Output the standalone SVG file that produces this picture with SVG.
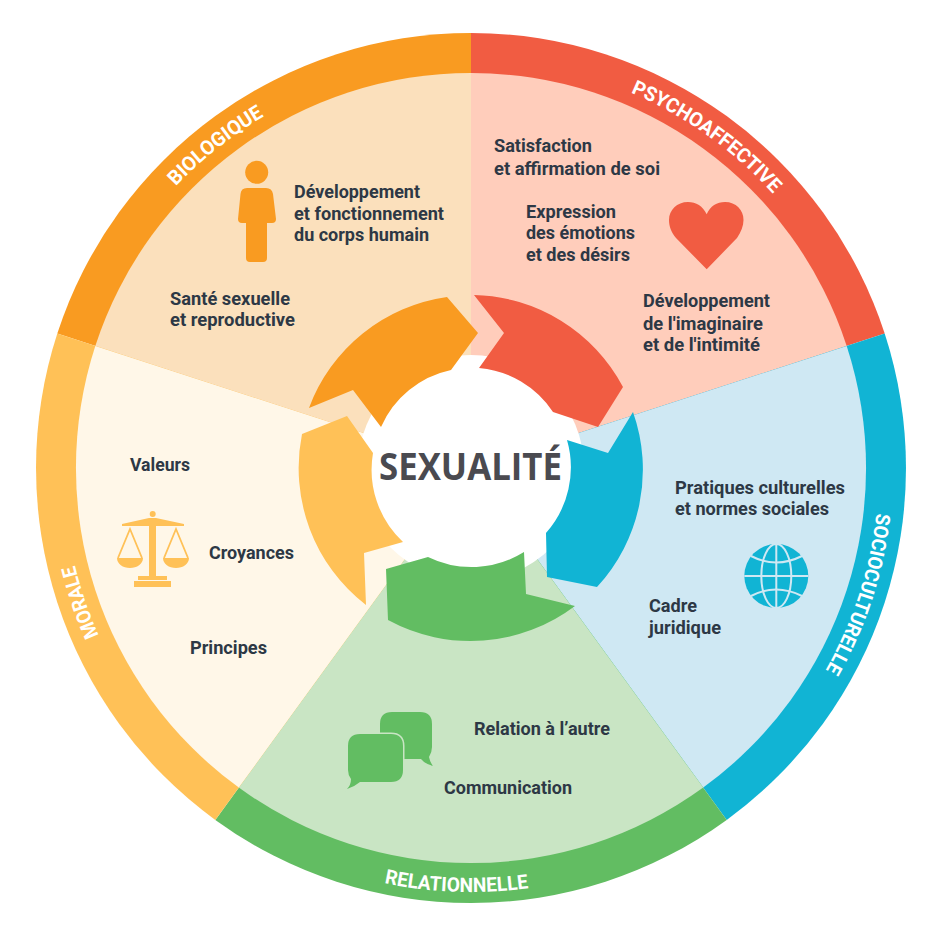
<svg xmlns="http://www.w3.org/2000/svg" width="936" height="938" viewBox="0 0 936 938">
<style>
.t{font-family:"Roboto","Liberation Sans",sans-serif;font-weight:700;font-size:18px;fill:#2d3845;transform:translateY(.7px)}
.r{font-family:"Roboto","Liberation Sans",sans-serif;font-weight:700;font-size:20px;fill:#fff}
</style>
<defs>
<path id="pBio" d="M71.3,386A408,408 0 0 1 482.4,60.2"/>
<path id="pPsy" d="M438.3,61.3A408,408 0 0 1 865.8,365.1"/>
<path id="pSoc" d="M849.3,315.2A408,408 0 0 1 687.2,814"/>
<path id="pMor" d="M260.9,817.7A408,408 0 0 1 90.1,321.8"/>
<path id="pRel" d="M187.3,783.1A424,424 0 0 0 732.1,802.1"/>
</defs>
<rect width="936" height="938" fill="#fff"/>
<g id="biologique">
<path d="M471,468L57.3,333.6A435,435 0 0 1 471,33Z" fill="#f99b21"/>
<path d="M471,468L95.3,345.9A395,395 0 0 1 471,73Z" fill="#fbe0bc"/>
<text class="r"><textPath href="#pBio" startOffset="50%" text-anchor="middle" textLength="113" lengthAdjust="spacingAndGlyphs">BIOLOGIQUE</textPath></text>
<circle cx="256.7" cy="172.3" r="11.5" fill="#f99b21"/>
<path d="M247,188H266Q272,188 273,194L276,219Q276,223 272,223H267V258Q267,262 263,262H250Q246,262 246,258V223H242Q238,223 238,219L240.500,194Q241,188 247,188Z" fill="#f99b21"/>
<text class="t" x="294" y="197" textLength="126" lengthAdjust="spacingAndGlyphs">Développement</text>
<text class="t" x="294" y="219" textLength="150" lengthAdjust="spacingAndGlyphs">et fonctionnement</text>
<text class="t" x="294" y="240" textLength="135" lengthAdjust="spacingAndGlyphs">du corps humain</text>
<text class="t" x="170" y="304" textLength="120" lengthAdjust="spacingAndGlyphs">Santé sexuelle</text>
<text class="t" x="170" y="325" textLength="125" lengthAdjust="spacingAndGlyphs">et reproductive</text>
</g>
<g id="psychoaffective">
<path d="M471,468L471,33A435,435 0 0 1 884.7,333.6Z" fill="#f15c42"/>
<path d="M471,468L471,73A395,395 0 0 1 846.7,345.9Z" fill="#ffcdbb"/>
<text class="r"><textPath href="#pPsy" startOffset="50%" text-anchor="middle" textLength="176" lengthAdjust="spacingAndGlyphs">PSYCHOAFFECTIVE</textPath></text>
<path d="M706.700,269.300L676,238C671,232 669,226 669,220C669,210 677,202 688,202C696,202 703,206 706.700,214.300C710,206 717,202 725,202C736,202 743.500,210 743.500,220C743.500,226 741,232 737,238Z" fill="#f15c42"/>
<text class="t" x="494" y="151" textLength="98" lengthAdjust="spacingAndGlyphs">Satisfaction</text>
<text class="t" x="494" y="174" textLength="166" lengthAdjust="spacingAndGlyphs">et affirmation de soi</text>
<text class="t" x="526" y="217" textLength="90" lengthAdjust="spacingAndGlyphs">Expression</text>
<text class="t" x="526" y="238" textLength="109" lengthAdjust="spacingAndGlyphs">des émotions</text>
<text class="t" x="526" y="260" textLength="104" lengthAdjust="spacingAndGlyphs">et des désirs</text>
<text class="t" x="643" y="306" textLength="127" lengthAdjust="spacingAndGlyphs">Développement</text>
<text class="t" x="643" y="329" textLength="120" lengthAdjust="spacingAndGlyphs">de l'imaginaire</text>
<text class="t" x="643" y="350" textLength="117" lengthAdjust="spacingAndGlyphs">et de l'intimité</text>
</g>
<g id="socioculturelle">
<path d="M471,468L884.7,333.6A435,435 0 0 1 726.7,819.9Z" fill="#11b4d4"/>
<path d="M471,468L846.7,345.9A395,395 0 0 1 703.2,787.6Z" fill="#cfe8f3"/>
<text class="r"><textPath href="#pSoc" startOffset="50%" text-anchor="middle" textLength="166" lengthAdjust="spacingAndGlyphs">SOCIOCULTURELLE</textPath></text>
<circle cx="776.3" cy="576" r="32" fill="#11b4d4"/>
<g fill="none" stroke="#cfe8f3" stroke-width="2">
<path d="M776.3,544V608M744.3,576H808.3"/>
<ellipse cx="776.3" cy="576" rx="15" ry="32"/>
<path d="M751,556Q776,569 802,556M751,596Q776,583 802,596"/>
</g>
<text class="t" x="675" y="493" textLength="170" lengthAdjust="spacingAndGlyphs">Pratiques culturelles</text>
<text class="t" x="675" y="514" textLength="154" lengthAdjust="spacingAndGlyphs">et normes sociales</text>
<text class="t" x="649" y="611" textLength="48" lengthAdjust="spacingAndGlyphs">Cadre</text>
<text class="t" x="649" y="633" textLength="72" lengthAdjust="spacingAndGlyphs">juridique</text>
</g>
<g id="relationnelle">
<path d="M471,468L726.7,819.9A435,435 0 0 1 215.3,819.9Z" fill="#62bd62"/>
<path d="M471,468L703.2,787.6A395,395 0 0 1 238.8,787.6Z" fill="#c9e5c4"/>
<text class="r"><textPath href="#pRel" startOffset="50%" text-anchor="middle" textLength="145" lengthAdjust="spacingAndGlyphs">RELATIONNELLE</textPath></text>
<path d="M392,712H420Q432,712 432,724V747Q432,752 429,757Q430,762 433,766Q425,764 421,759H392Q380,759 380,747V724Q380,712 392,712Z" fill="#62bd62"/>
<path d="M360,734H391Q403,734 403,746V770Q403,782 391,782H360Q354,787 347,789Q351,785 351,779Q348,775 348,770V746Q348,734 360,734Z" fill="#62bd62" stroke="#c9e5c4" stroke-width="3" paint-order="stroke"/>
<text class="t" x="474" y="734" textLength="136" lengthAdjust="spacingAndGlyphs">Relation à l’autre</text>
<text class="t" x="444" y="793" textLength="128" lengthAdjust="spacingAndGlyphs">Communication</text>
</g>
<g id="morale">
<path d="M471,468L215.3,819.9A435,435 0 0 1 57.3,333.6Z" fill="#ffc157"/>
<path d="M471,468L238.8,787.6A395,395 0 0 1 95.3,345.9Z" fill="#fff7e8"/>
<text class="r"><textPath href="#pMor" startOffset="50%" text-anchor="middle" textLength="74" lengthAdjust="spacingAndGlyphs">MORALE</textPath></text>
<g fill="#ffc157">
<circle cx="152.7" cy="514" r="3"/>
<path d="M122,524L149,518H156L184,524V526H122ZM149,525H156V577H149ZM138,576H167V580H138ZM134,581H171V587H134Z"/>
<path d="M117,558H143C143,564 137,568 130,568C123,568 117,564 117,558ZM163,558H189C189,564 183,568 176,568C169,568 163,564 163,558Z"/>
</g>
<path d="M118,558L130,529L142,558M164,558L176,529L188,558" fill="none" stroke="#ffc157" stroke-width="1.8"/>
<text class="t" x="130" y="470" textLength="60" lengthAdjust="spacingAndGlyphs">Valeurs</text>
<text class="t" x="209" y="558" textLength="85" lengthAdjust="spacingAndGlyphs">Croyances</text>
<text class="t" x="190" y="653" textLength="77" lengthAdjust="spacingAndGlyphs">Principes</text>
</g>
<g id="connectors">
<circle cx="471" cy="468" r="113" fill="#fff"/>
<path d="M309,408A173,173 0 0 1 447,297L478,333L451,370A99,99 0 0 0 381,427L353,390Z" fill="#f99b21"/>
<path d="M474,295A173,173 0 0 1 623,387L598,427L553,412A99,99 0 0 0 479,368L504,333Z" fill="#f15c42"/>
<path d="M633,412A173,173 0 0 1 597,587L547,577L546,533A99,99 0 0 0 567,440L608,453Z" fill="#11b4d4"/>
<path d="M575,606A173,173 0 0 1 388,620L386,569L428,557A99,99 0 0 0 524,552L526,594Z" fill="#62bd62"/>
<path d="M366,605A173,173 0 0 1 302,434L347,416L373,453A99,99 0 0 0 403,542L364,553Z" fill="#ffc157"/>
</g>
<g id="centre">
<text x="470.5" y="479.5" font-family="'Open Sans','Liberation Sans',sans-serif" font-weight="700" font-size="37" fill="#4a4a50" text-anchor="middle" textLength="183" lengthAdjust="spacingAndGlyphs">SEXUALITÉ</text>
</g>
</svg>
